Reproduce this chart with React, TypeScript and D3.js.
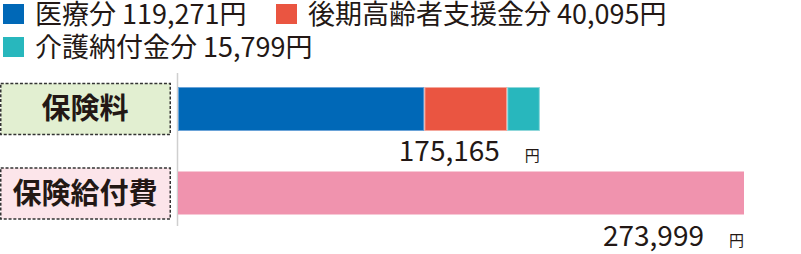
import React from "react";
import * as d3 from "d3";

const categories = ["保険料", "保険給付費"];
const segmentNames = ["医療分", "後期高齢者支援金分", "介護納付金分"];
const premiumValues = [119271, 40095, 15799];
const benefitValues = [273999];
const totalLabels = ["175,165", "273,999"];

const segColors = ["#0068b7", "#ea5541", "#28b7bd"];
const segStrokes = ["#6aa3d8", "#f4a79c", "#8fd7da"];
const benefitColor = "#f093ae";

const W = 801;
const H = 254;
const FONT = "'Noto Sans CJK JP', 'Noto Sans', sans-serif";

export default function App() {
  const x = d3.scaleLinear().domain([0, d3.sum(benefitValues)]).range([178, 744]);
  const y = d3.scalePoint<string>().domain(categories).range([109, 193.5]);
  const barH = 44;
  const fmt = d3.format(",");

  const premiumStack = premiumValues.map((v, i) => {
    const start = d3.sum(premiumValues.slice(0, i));
    return { start, end: start + v, i };
  });
  const totals = [d3.sum(premiumValues), d3.sum(benefitValues)];

  const legendPos = [
    { x: 3, y: 4 },
    { x: 276, y: 4 },
    { x: 3, y: 37 },
  ];

  const boxFills = ["#e2efd1", "#fce5ea"];

  return (
    <svg
      width={W}
      height={H}
      style={{ position: "absolute", left: 0, top: 0, background: "#fff" }}
      fontFamily={FONT}
    >
      {/* legend */}
      {segmentNames.map((name, i) => (
        <g key={name}>
          <rect x={legendPos[i].x} y={legendPos[i].y} width={21} height={20} fill={segColors[i]} />
          <text
            x={legendPos[i].x + 32}
            y={legendPos[i].y + 20}
            fontSize={27}
            fill="#231815"
          >
            {name} {fmt(premiumValues[i])}円
          </text>
        </g>
      ))}

      {/* axis line */}
      <line x1={177.5} x2={177.5} y1={73} y2={226} stroke="#cfcfcf" strokeWidth={1.5} />

      {/* category label boxes */}
      {categories.map((c, i) => {
        const cy = y(c)!;
        return (
          <g key={c}>
            <rect
              x={0.75}
              y={cy - 25.5}
              width={169.5}
              height={51}
              fill={boxFills[i]}
              stroke="#333"
              strokeWidth={1.5}
              strokeDasharray="3,1.8"
            />
            <text
              x={85}
              y={cy + 10}
              textAnchor="middle"
              fontSize={29}
              fontWeight={700}
              fill="#231815"
            >
              {c}
            </text>
          </g>
        );
      })}

      {/* premium stacked bar */}
      {premiumStack.map((s) => (
        <rect
          key={s.i}
          x={x(s.start) + 0.5}
          y={y(categories[0])! - barH / 2 + 0.5}
          width={x(s.end) - x(s.start) - 1}
          height={barH - 1}
          fill={segColors[s.i]}
          stroke={segStrokes[s.i]}
          strokeWidth={1}
        />
      ))}

      {/* benefit bar */}
      <rect
        x={x(0)}
        y={y(categories[1])! - barH / 2}
        width={x(benefitValues[0]) - x(0)}
        height={barH - 1}
        fill={benefitColor}
      />

      {/* totals */}
      {categories.map((c, i) => {
        const xe = x(totals[i]);
        const by = y(c)! + barH / 2 + 30;
        return (
          <g key={c + "t"}>
            <text x={xe - 40} y={by} textAnchor="end" fontSize={28} fill="#231815">
              {totalLabels[i]}
            </text>
            <text x={xe} y={by} textAnchor="end" fontSize={15} fill="#231815">
              円
            </text>
          </g>
        );
      })}
    </svg>
  );
}
